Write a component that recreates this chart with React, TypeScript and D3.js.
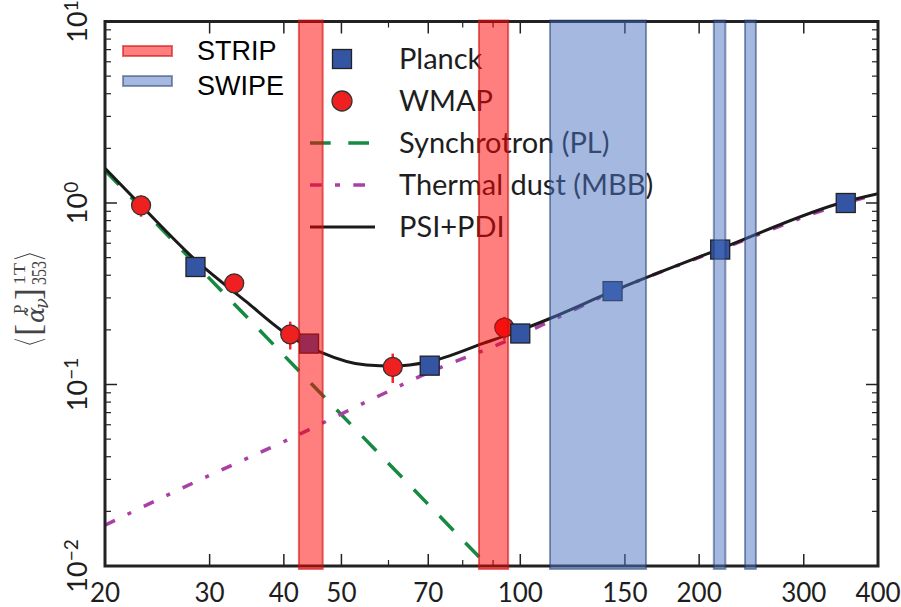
import React from 'react';
import * as d3 from 'd3';

const W = 901;
const H = 607;
const M = { left: 105, right: 878, top: 21.5, bottom: 566 };

// Axis ticks
const xTickVals = [20, 30, 40, 50, 70, 100, 150, 200, 300, 400];
const xTickLabels = ['20', '30', '40', '50', '70', '100', '150', '200', '300', '400'];
const xMinorTicks = [60, 80, 90];
const yMajorVals = [0.01, 0.1, 1, 10];
const yTickExps = ['\u22122', '\u22121', '0', '1'];
const yMinorMult = [2, 3, 4, 5, 6, 7, 8, 9];

// Data points
const planckFreq = [28.4, 44.1, 70.4, 100, 143, 217, 353];
const planckVal = [0.444, 0.168, 0.127, 0.191, 0.327, 0.554, 1.0];
const planckErr = [0.05, 0.012, 0.006, 0.006, 0.006, 0.01, 0.02];

const wmapFreq = [23, 33, 41, 61, 94];
const wmapVal = [0.97, 0.361, 0.189, 0.125, 0.206];
const wmapErr = [0.13, 0.02, 0.033, 0.023, 0.03];

// Model curves
const synchFreq = [20, 88.2];
const synchVal = [1.51, 0.01];

const dustFreq = [20, 29, 40.5, 58, 72, 85, 100, 114, 143, 217, 353, 400];
const dustVal = [0.0168, 0.03, 0.0494, 0.087, 0.121, 0.15, 0.187, 0.229, 0.324, 0.555, 1.0, 1.12];

const totalFreq = [20, 23.07, 28.6, 34.4, 41.1, 46, 55.1, 61.1, 70.2, 86.6, 100, 112.2, 143.1, 217.5, 353, 400];
const totalVal = [1.552, 0.96, 0.475, 0.29, 0.183, 0.1514, 0.1279, 0.1263, 0.1334, 0.1684, 0.199, 0.231, 0.3266, 0.561, 1.02, 1.126];

// Frequency bands
const stripLow = [42.4, 85.2];
const stripHigh = [46.5, 95.4];
const swipeLow = [112.2, 211.7, 238.9];
const swipeHigh = [162.8, 221.4, 249.2];

const legendLabels = ['Planck', 'WMAP', 'Synchrotron (PL)', 'Thermal dust (MBB)', 'PSI+PDI'];

const SANS = 'Lato, "Open Sans", sans-serif';
const SERIF = '"Liberation Serif", "DejaVu Serif", serif';
const GREEN = '#158a40';
const MAGENTA = '#aa3fa5';
const BLACK = '#1a1a1a';
const PLANCK = '#3454a4';
const WMAP = '#ee2020';

export default function App() {
  const x = d3.scaleLog().domain([20, 400]).range([M.left, M.right]);
  const y = d3.scaleLog().domain([0.01, 10]).range([M.bottom, M.top]);

  const line = d3
    .line<[number, number]>()
    .x((d) => x(d[0]))
    .y((d) => y(d[1]))
    .curve(d3.curveMonotoneX);

  const synch = line(synchFreq.map((f, i) => [f, synchVal[i]] as [number, number])) || '';
  const dust = line(dustFreq.map((f, i) => [f, dustVal[i]] as [number, number])) || '';
  const total = line(totalFreq.map((f, i) => [f, totalVal[i]] as [number, number])) || '';

  const yMinor: number[] = [];
  [0.01, 0.1, 1].forEach((d) => yMinorMult.forEach((k) => yMinor.push(d * k)));

  const majLen = 12;
  const minLen = 6;
  const tickColor = '#222';

  const legendY0 = 69;
  const legendDY = 42;

  const sq = 19;

  return (
    <svg
      width={W}
      height={H}
      style={{ position: 'absolute', left: 0, top: 0, display: 'block' }}
      xmlns="http://www.w3.org/2000/svg"
    >
      <rect x={0} y={0} width={W} height={H} fill="#fff" />
      <defs>
        <clipPath id="plotClip">
          <rect x={M.left} y={M.top} width={M.right - M.left} height={M.bottom - M.top} />
        </clipPath>
      </defs>

      {/* Model lines */}
      <g clipPath="url(#plotClip)" fill="none">
        <path d={synch} stroke={GREEN} strokeWidth={3.5} strokeDasharray="20,17" />
        <path d={dust} stroke={MAGENTA} strokeWidth={3.5} strokeDasharray="11,14,4,14" />
        <path d={total} stroke={BLACK} strokeWidth={3} />
      </g>

      {/* WMAP points */}
      <g>
        {wmapFreq.map((f, i) => (
          <line
            key={'we' + i}
            x1={x(f)}
            x2={x(f)}
            y1={y(wmapVal[i] + wmapErr[i])}
            y2={y(wmapVal[i] - wmapErr[i])}
            stroke="#ff2020"
            strokeWidth={2.5}
          />
        ))}
        {wmapFreq.map((f, i) => (
          <circle key={'w' + i} cx={x(f)} cy={y(wmapVal[i])} r={9.5} fill={WMAP} stroke="#333" strokeWidth={1.3} />
        ))}
      </g>

      {/* Planck points */}
      <g>
        {planckFreq.map((f, i) => (
          <line
            key={'pe' + i}
            x1={x(f)}
            x2={x(f)}
            y1={y(planckVal[i] + planckErr[i])}
            y2={y(planckVal[i] - planckErr[i])}
            stroke={PLANCK}
            strokeWidth={2.5}
          />
        ))}
        {planckFreq.map((f, i) => (
          <rect
            key={'p' + i}
            x={x(f) - sq / 2}
            y={y(planckVal[i]) - sq / 2}
            width={sq}
            height={sq}
            fill={PLANCK}
            stroke="#222"
            strokeWidth={1.3}
          />
        ))}
      </g>

      {/* Legend 2 */}
      <g>
        <rect x={342 - sq / 2} y={legendY0 - 10 - sq / 2} width={sq} height={sq} fill={PLANCK} stroke="#222" strokeWidth={1.3} />
        <circle cx={342} cy={legendY0 + legendDY - 10} r={10} fill={WMAP} stroke="#333" strokeWidth={1.3} />
        <line x1={310} x2={375} y1={legendY0 + 2 * legendDY - 10} y2={legendY0 + 2 * legendDY - 10} stroke={GREEN} strokeWidth={3.5} strokeDasharray="20.7,17.6" />
        <line x1={310} x2={375} y1={legendY0 + 3 * legendDY - 10} y2={legendY0 + 3 * legendDY - 10} stroke={MAGENTA} strokeWidth={3.5} strokeDasharray="11.7,13.3,5,13.3" />
        <line x1={310} x2={375} y1={legendY0 + 4 * legendDY - 10} y2={legendY0 + 4 * legendDY - 10} stroke={BLACK} strokeWidth={3} />
        {legendLabels.map((t, i) => (
          <text key={'l' + i} x={399} y={legendY0 + i * legendDY} fontFamily={SANS} fontSize={29} fill="#1e1e1e">
            {t}
          </text>
        ))}
      </g>

      {/* Spines & ticks */}
      <g stroke={tickColor}>
        {xTickVals.map((v, i) => (
          <g key={'xt' + i}>
            <line x1={x(v)} x2={x(v)} y1={M.bottom} y2={M.bottom - majLen} strokeWidth={1.5} />
            <line x1={x(v)} x2={x(v)} y1={M.top} y2={M.top + majLen} strokeWidth={1.5} />
          </g>
        ))}
        {xMinorTicks.map((v, i) => (
          <g key={'xm' + i}>
            <line x1={x(v)} x2={x(v)} y1={M.bottom} y2={M.bottom - minLen} strokeWidth={1.2} />
            <line x1={x(v)} x2={x(v)} y1={M.top} y2={M.top + minLen} strokeWidth={1.2} />
          </g>
        ))}
        {yMajorVals.map((v, i) => (
          <g key={'yt' + i}>
            <line x1={M.left} x2={M.left + majLen} y1={y(v)} y2={y(v)} strokeWidth={1.5} />
            <line x1={M.right} x2={M.right - majLen} y1={y(v)} y2={y(v)} strokeWidth={1.5} />
          </g>
        ))}
        {yMinor.map((v, i) => (
          <g key={'ym' + i}>
            <line x1={M.left} x2={M.left + minLen} y1={y(v)} y2={y(v)} strokeWidth={1.2} />
            <line x1={M.right} x2={M.right - minLen} y1={y(v)} y2={y(v)} strokeWidth={1.2} />
          </g>
        ))}
        <rect
          x={M.left}
          y={M.top}
          width={M.right - M.left}
          height={M.bottom - M.top}
          fill="none"
          stroke="#222"
          strokeWidth={3}
        />
      </g>

      {/* Frequency bands */}
      <g>
        {stripLow.map((lo, i) => (
          <rect
            key={'sb' + i}
            x={x(lo)}
            y={M.top - 1}
            width={x(stripHigh[i]) - x(lo)}
            height={M.bottom - M.top + 4}
            fill="#ff0000"
            fillOpacity={0.5}
            stroke="#d01010"
            strokeOpacity={0.6}
            strokeWidth={2}
          />
        ))}
        {swipeLow.map((lo, i) => (
          <rect
            key={'wb' + i}
            x={x(lo)}
            y={M.top - 1}
            width={x(swipeHigh[i]) - x(lo)}
            height={M.bottom - M.top + 4}
            fill="#4971c1"
            fillOpacity={0.5}
            stroke="#1f3a70"
            strokeOpacity={0.5}
            strokeWidth={2}
          />
        ))}
      </g>

      {/* Legend 1 */}
      <g fontFamily='"Liberation Sans", Arial, sans-serif' fontSize={27} fill="#000">
        <rect x={123} y={46} width={49} height={10} fill="#ff0000" fillOpacity={0.5} stroke="#d01010" strokeOpacity={0.6} strokeWidth={2} />
        <rect x={123} y={76} width={49} height={10} fill="#4971c1" fillOpacity={0.5} stroke="#1f3a70" strokeOpacity={0.5} strokeWidth={2} />
        <text x={197} y={60}>STRIP</text>
        <text x={197} y={95}>SWIPE</text>
      </g>

      {/* X tick labels */}
      <g fontFamily={SANS} fontSize={26} fill="#1e1e1e" textAnchor="middle">
        {xTickVals.map((v, i) => (
          <text key={'xl' + i} x={x(v)} y={602}>
            {xTickLabels[i]}
          </text>
        ))}
      </g>

      {/* Y tick labels (rotated) */}
      <g fontFamily={SANS} fill="#1e1e1e">
        {yMajorVals.map((v, i) => (
          <text key={'yl' + i} transform={`translate(87,${y(v)}) rotate(-90)`} textAnchor="middle" fontSize={27}>
            <tspan>10</tspan>
            <tspan fontSize={19} dy={-9}>
              {yTickExps[i]}
            </tspan>
          </text>
        ))}
      </g>

      {/* Y axis label */}
      <g transform="translate(44,355) rotate(-90)" fill="#444" fontFamily={SERIF}>
        <text x={0} y={-1.5} fontSize={34} fontFamily='"Noto Sans CJK JP", sans-serif' fontWeight={300} textLength={17} lengthAdjust="spacingAndGlyphs">
          {'\u3008'}
        </text>
        <text x={19} y={-4} fontSize={36}>
          [
        </text>
        <text x={32} y={0} fontSize={24} fontStyle="italic" fontFamily='"DejaVu Serif", serif'>
          {'\u03B1\u0303'}
        </text>
        <text x={41} y={-19} fontSize={17}>
          P
        </text>
        <text x={46} y={4} fontSize={18} fontStyle="italic" fontFamily='"DejaVu Serif", serif'>
          {'\u03BD'}
        </text>
        <text x={55} y={-4} fontSize={36}>
          ]
        </text>
        <text x={70} y={-19} fontSize={17} textLength={22} lengthAdjust="spacingAndGlyphs">
          1T
        </text>
        <text x={70} y={2} fontSize={20} textLength={24} lengthAdjust="spacingAndGlyphs">
          353
        </text>
        <text x={95} y={-1.5} fontSize={34} fontFamily='"Noto Sans CJK JP", sans-serif' fontWeight={300} textLength={17} lengthAdjust="spacingAndGlyphs">
          {'\u3009'}
        </text>
      </g>
    </svg>
  );
}
